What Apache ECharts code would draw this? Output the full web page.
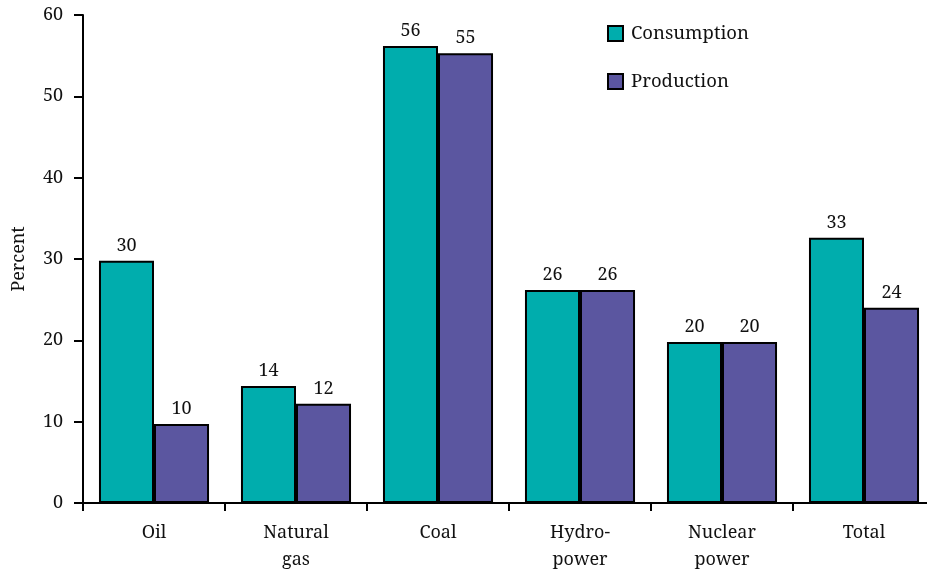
<!DOCTYPE html>
<html>
<head>
<meta charset="utf-8">
<script src="https://cdn.jsdelivr.net/npm/echarts@6/dist/echarts.min.js"></script>
<style>html,body{margin:0;padding:0;background:#fff}#c{width:927px;height:573px}</style>
</head>
<body>
<div id="c"></div>
<script>
const categories = ['Oil', 'Natural\ngas', 'Coal', 'Hydro-\npower', 'Nuclear\npower', 'Total'];
const consumption = [29.8, 14.4, 56.2, 26.2, 19.8, 32.6];
const production = [9.7, 12.2, 55.3, 26.2, 19.8, 24.0];
const seriesNames = ['Consumption', 'Production'];
const yTicks = { min: 0, max: 60, interval: 10 };

const FONT = '"Noto Serif", "Liberation Serif", serif';
const chart = echarts.init(document.getElementById('c'), null, { renderer: 'canvas' });
const labelCfg = {
  show: true, position: 'top', distance: 6,
  fontFamily: FONT, fontSize: 18, color: '#111',
  formatter: p => Math.round(p.value)
};
chart.setOption({
  animation: false,
  textStyle: { fontFamily: FONT },
  grid: { left: 83, top: 15, bottom: 70, width: 852, outerBoundsMode: 'none', containLabel: false },
  legend: {
    orient: 'vertical', left: 602, top: 19,
    itemWidth: 15, itemHeight: 15, itemGap: 29,
    textStyle: { fontFamily: FONT, fontSize: 18.5, color: '#111', padding: [0, 0, 0, 3] },
    data: seriesNames.map(n => ({ name: n, icon: 'rect' }))
  },
  xAxis: {
    type: 'category', data: categories,
    axisLine: { lineStyle: { color: '#000', width: 2 } },
    axisTick: { show: true, length: 8, lineStyle: { color: '#000', width: 2 } },
    axisLabel: { fontFamily: FONT, fontSize: 18, color: '#111', margin: 16, lineHeight: 27 }
  },
  yAxis: {
    type: 'value', min: yTicks.min, max: yTicks.max, interval: yTicks.interval,
    name: 'Percent', nameLocation: 'middle', nameGap: 55,
    nameTextStyle: { fontFamily: FONT, fontSize: 18, color: '#111' },
    splitLine: { show: false },
    axisLine: { show: true, lineStyle: { color: '#000', width: 2 } },
    axisTick: { show: true, length: 9, lineStyle: { color: '#000', width: 2 } },
    axisLabel: { fontFamily: FONT, fontSize: 18, color: '#111', margin: 20 }
  },
  series: [
    {
      name: seriesNames[0], type: 'bar', data: consumption,
      barGap: '0%', barCategoryGap: '22.5%',
      itemStyle: { color: '#00ADAD', borderColor: '#000', borderWidth: 2 },
      label: labelCfg
    },
    {
      name: seriesNames[1], type: 'bar', data: production,
      itemStyle: { color: '#5B56A0', borderColor: '#000', borderWidth: 2 },
      label: labelCfg
    }
  ]
});
</script>
</body>
</html>
